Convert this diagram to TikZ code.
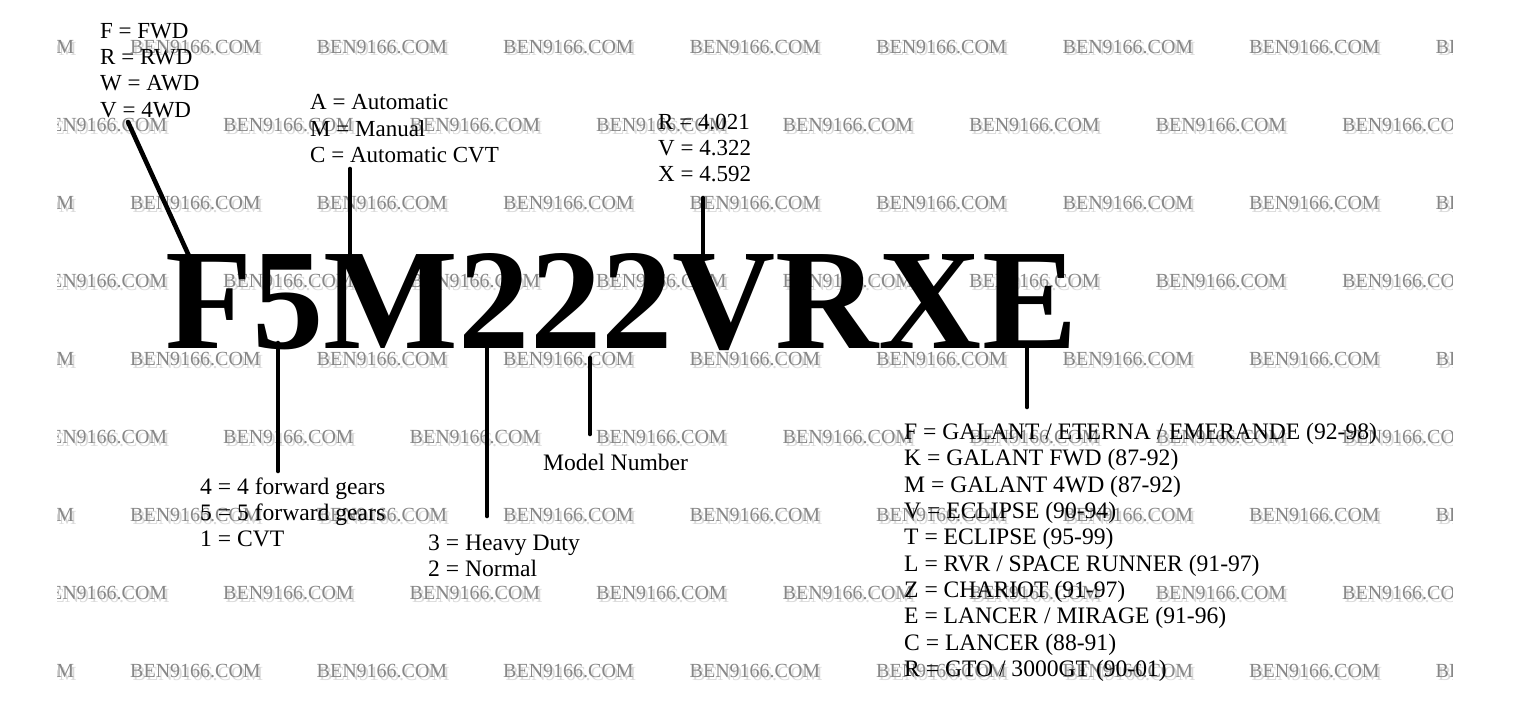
\documentclass[tikz,border=0pt]{standalone}
\usepackage{fontspec}
\setmainfont{Liberation Serif}
\definecolor{wmgray}{HTML}{878787}
\definecolor{wmshadow}{HTML}{DADADA}
\begin{document}
\begin{tikzpicture}[x=1pt,y=-1pt,
  lab/.style={font=\fontsize{23}{26}\selectfont, anchor=base west, inner sep=0pt, text=black},
  labb/.style={lab, font=\fontsize{23.6}{26}\selectfont},
  wm/.style={font=\fontsize{20}{20}\selectfont, anchor=base west, inner sep=0pt, text=wmgray},
  wmsh/.style={wm, text=wmshadow},
  big/.style={font=\fontsize{143.5}{143.5}\selectfont\bfseries, anchor=base west, inner sep=0pt},
  conn/.style={line width=4.6pt, black, line cap=round}]
\useasboundingbox (0,0) rectangle (1539,709);
\fill[white] (0,0) rectangle (1539,709);
% watermark
\begin{scope}
\clip (57,0) rectangle (1452,709);
\foreach \yy in {53,209,365,521,677} {
  \foreach \k in {-1,...,7} {
    \node[wmsh] (wsa\yy-\k) at ({130+186.5*\k+2.5},{\yy+3}) {BEN9166.COM};
    \node[wm] (wa\yy-\k) at ({130+186.5*\k},\yy) {BEN9166.COM};
  }
}
\foreach \yy in {131,287,443,599} {
  \foreach \k in {0,...,7} {
    \node[wmsh] (wsb\yy-\k) at ({36.5+186.5*\k+2.5},{\yy+3}) {BEN9166.COM};
    \node[wm] (wb\yy-\k) at ({36.5+186.5*\k},\yy) {BEN9166.COM};
  }
}
\end{scope}
% big code
\node[big] (code) at (165,348) {\scalebox{0.995}[1]{F5M222VRXE}};
% drive list
\node[lab] (d1) at (100,39) {F = FWD};
\node[lab] (d2) at (100,65) {R = RWD};
\node[lab] (d3) at (100,91) {W = AWD};
\node[lab] (d4) at (100,117) {V = 4WD};
% transmission type
\node[lab] (t1) at (310,110) {A = Automatic};
\node[lab] (t2) at (310,136) {M = Manual};
\node[lab] (t3) at (310,162) {C = Automatic CVT};
% final drive
\node[lab] (r1) at (658,129) {R = 4.021};
\node[lab] (r2) at (658,155) {V = 4.322};
\node[lab] (r3) at (658,181) {X = 4.592};
% gears
\node[labb] (g1) at (200,494) {4 = 4 forward gears};
\node[labb] (g2) at (200,520) {5 = 5 forward gears};
\node[labb] (g3) at (200,546) {1 = CVT};
% duty
\node[labb] (h1) at (428,550) {3 = Heavy Duty};
\node[labb] (h2) at (428,576) {2 = Normal};
% model
\node[labb] (mn) at (543,470) {Model Number};
% vehicles
\node[labb] (v1) at (904,439) {F = GALANT / ETERNA / EMERANDE (92-98)};
\node[labb] (v2) at (904,465) {K = GALANT FWD (87-92)};
\node[labb] (v3) at (904,492) {M = GALANT 4WD (87-92)};
\node[labb] (v4) at (904,518) {V = ECLIPSE (90-94)};
\node[labb] (v5) at (904,544) {T = ECLIPSE (95-99)};
\node[labb] (v6) at (904,571) {L = RVR / SPACE RUNNER (91-97)};
\node[labb] (v7) at (904,597) {Z = CHARIOT (91-97)};
\node[labb] (v8) at (904,623) {E = LANCER / MIRAGE (91-96)};
\node[labb] (v9) at (904,650) {C = LANCER (88-91)};
\node[labb] (v10) at (904,676) {R = GTO / 3000GT (90-01)};
% connector end points
\coordinate (a1) at (128,122); \coordinate (a2) at (189,256);
\coordinate (b1) at (350,169); \coordinate (b2) at (350,258);
\coordinate (c1) at (703,198); \coordinate (c2) at (703,258);
\coordinate (e1) at (278,343); \coordinate (e2) at (278,471);
\coordinate (f1) at (487,343); \coordinate (f2) at (487,516);
\coordinate (m1) at (590,358); \coordinate (m2) at (590,434);
\coordinate (x1) at (1027,345); \coordinate (x2) at (1027,407);
\draw[conn] (a1) -- (a2);
\draw[conn] (b1) -- (b2);
\draw[conn] (c1) -- (c2);
\draw[conn] (e1) -- (e2);
\draw[conn] (f1) -- (f2);
\draw[conn] (m1) -- (m2);
\draw[conn] (x1) -- (x2);
\end{tikzpicture}
\end{document}
